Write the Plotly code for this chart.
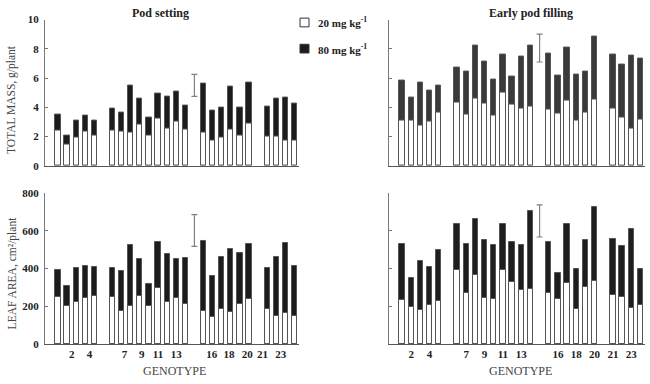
import plotly.graph_objects as go

# ---------------- data ----------------
group_sizes = [5, 9, 6, 4]          # genotypes per group (1-5, 6-14, 15-20, 21-24)
genotypes = list(range(1, 25))

mass_pod_80 = [3.53, 2.10, 3.09, 3.47, 3.09, 3.93, 3.62, 5.47, 4.61, 3.29, 4.92, 4.75, 5.10, 4.13,
               5.63, 3.75, 4.00, 5.43, 4.00, 5.70, 4.04, 4.61, 4.66, 4.24]
mass_pod_20 = [2.43, 1.45, 1.92, 2.32, 2.05, 2.38, 2.34, 2.25, 2.85, 2.05, 3.22, 2.54, 3.05, 2.45,
               2.27, 1.70, 1.96, 2.45, 2.10, 2.89, 2.01, 2.03, 1.74, 1.72]
mass_fill_80 = [5.85, 4.64, 5.67, 5.14, 5.50, 6.73, 6.42, 8.19, 7.15, 5.87, 7.64, 6.11, 7.46, 8.21,
                7.68, 6.18, 8.10, 6.23, 6.45, 8.87, 7.62, 6.91, 7.55, 7.35]
mass_fill_20 = [3.09, 3.09, 2.76, 3.02, 3.64, 4.30, 3.53, 4.57, 4.24, 3.47, 5.03, 4.19, 3.91, 4.08,
                3.84, 3.60, 4.46, 3.09, 3.66, 4.50, 3.89, 3.33, 2.52, 3.18]
leaf_pod_80 = [391, 309, 402, 414, 409, 403, 386, 523, 451, 320, 540, 477, 451, 455,
               545, 359, 462, 501, 482, 528, 405, 463, 533, 414]
leaf_pod_20 = [250, 200, 224, 246, 253, 248, 178, 202, 255, 200, 299, 222, 246, 212,
               176, 142, 186, 169, 212, 241, 188, 150, 164, 150]
leaf_fill_80 = [530, 349, 442, 408, 499, 636, 528, 664, 549, 525, 636, 542, 525, 707,
                542, 376, 634, 397, 552, 727, 557, 521, 612, 400]
leaf_fill_20 = [232, 198, 183, 208, 229, 395, 270, 366, 244, 241, 393, 328, 287, 291,
                270, 241, 321, 188, 301, 332, 261, 248, 193, 205]

# LSD bars (center, half-length) for each panel
lsd_center = [5.5, 8.05, 601, 652]
lsd_half = [0.75, 0.95, 84, 85]

tick_labels = ["2", "4", "7", "9", "11", "13", "16", "18", "20", "21", "23"]
tick_pos_left = [2.5, 4.45, 8.3, 10.2, 12.0, 14.0, 17.9, 19.8, 21.8, 23.5, 25.5]
tick_pos_right = [2, 4, 8, 10, 12, 14, 18, 20, 22, 24, 26]

panel_titles = ["Pod setting", "Early pod filling"]
legend_labels = ["20 mg kg<sup>-1</sup>", "80 mg kg<sup>-1</sup>"]

# ---------------- positions (groups separated by an empty slot) ----------------
pos = []
p = 1
for g in group_sizes:
    for _ in range(g):
        pos.append(p)
        p += 1
    p += 1
lsd_x = pos[sum(group_sizes[:2]) - 1] + 1

FONT = "Liberation Serif"
fig = go.Figure()

panels = [
    (mass_pod_20, mass_pod_80, "x", "y", "#1c1c1c"),
    (mass_fill_20, mass_fill_80, "x2", "y2", "#3a3a3a"),
    (leaf_pod_20, leaf_pod_80, "x3", "y3", "#1c1c1c"),
    (leaf_fill_20, leaf_fill_80, "x4", "y4", "#1e1e1e"),
]
for i, (v20, v80, xa, ya, dark) in enumerate(panels):
    fig.add_trace(go.Bar(x=pos, y=v80, width=0.58, xaxis=xa, yaxis=ya,
                         marker=dict(color=dark, line=dict(color="#555555", width=1)),
                         showlegend=False, hoverinfo="y"))
    fig.add_trace(go.Bar(x=pos, y=v20, width=0.58, xaxis=xa, yaxis=ya,
                         marker=dict(color="white", line=dict(color="#555555", width=1)),
                         showlegend=False, hoverinfo="y"))
    fig.add_trace(go.Scatter(x=[lsd_x], y=[lsd_center[i]], xaxis=xa, yaxis=ya, mode="markers",
                             marker=dict(size=1, color="rgba(0,0,0,0)"),
                             error_y=dict(type="data", array=[lsd_half[i]], color="#808080",
                                          thickness=1.2, width=3),
                             showlegend=False, hoverinfo="skip"))

xl = [45 / 650, 299 / 650]
xr = [389 / 650, 645 / 650]
yt = [1 - 165 / 384, 1 - 14 / 384]
yb = [1 - 349 / 384, 1 - 193 / 384]

xcommon = dict(range=[-0.43, 27.5], showline=True, linecolor="#555555", linewidth=1,
               ticks="", showgrid=False, zeroline=False, fixedrange=True,
               tickfont=dict(family=FONT, size=11, color="#222", weight="bold"))
ycommon = dict(showline=True, linecolor="#777777", linewidth=1, ticks="inside", ticklen=3,
               tickcolor="#777777", showgrid=False, zeroline=False,
               tickfont=dict(family=FONT, size=11, color="#222", weight="bold"),
               ticklabelstandoff=3)

fig.update_layout(
    width=650, height=384, margin=dict(l=0, r=0, t=0, b=0),
    paper_bgcolor="white", plot_bgcolor="white", barmode="overlay", bargap=0,
    showlegend=False,
    xaxis=dict(domain=xl, anchor="y", showticklabels=False, **xcommon),
    xaxis2=dict(domain=xr, anchor="y2", showticklabels=False, **xcommon),
    xaxis3=dict(domain=xl, anchor="y3", tickmode="array", tickvals=tick_pos_left,
                ticktext=tick_labels, **xcommon),
    xaxis4=dict(domain=xr, anchor="y4", tickmode="array", tickvals=tick_pos_right,
                ticktext=tick_labels, **xcommon),
    yaxis=dict(domain=yt, anchor="x", range=[0, 10], dtick=2, **ycommon),
    yaxis2=dict(domain=yt, anchor="x2", range=[0, 10], dtick=2, showticklabels=False, **ycommon),
    yaxis3=dict(domain=yb, anchor="x3", range=[0, 800], dtick=200, **ycommon),
    yaxis4=dict(domain=yb, anchor="x4", range=[0, 800], dtick=200, showticklabels=False, **ycommon),
)


def note(text, xp, yp, size, color, angle=0, xanchor="center"):
    return dict(text=text, x=xp / 650, y=1 - yp / 384, xref="paper", yref="paper",
                xanchor=xanchor, yanchor="middle", textangle=angle, showarrow=False,
                font=dict(family=FONT, size=size, color=color))


ann = []
for t, xc in zip(panel_titles, [160, 531]):
    ann.append(note("<b>%s</b>" % t, xc, 7, 12, "#222"))
ann.append(note("TOTAL MASS, g/plant", 12, 97, 11.5, "#444", angle=-90))
ann.append(note("LEAF AREA, cm²/plant", 12, 276, 11.5, "#444", angle=-90))
for xc in [174, 520]:
    ann.append(note("GENOTYPE", xc, 377, 12, "#444"))

shapes = []
for lab, fill, yc in zip(legend_labels, ["white", "#1c1c1c"], [17, 44]):
    shapes.append(dict(type="rect", xref="paper", yref="paper",
                       x0=300 / 650, x1=309 / 650, y0=1 - (yc + 4.5) / 384, y1=1 - (yc - 4.5) / 384,
                       fillcolor=fill, line=dict(color="#333", width=1)))
    ann.append(note("<b>%s</b>" % lab, 316, yc, 11, "#222", xanchor="left"))

fig.update_layout(annotations=ann, shapes=shapes)
fig.write_html("out.html")
